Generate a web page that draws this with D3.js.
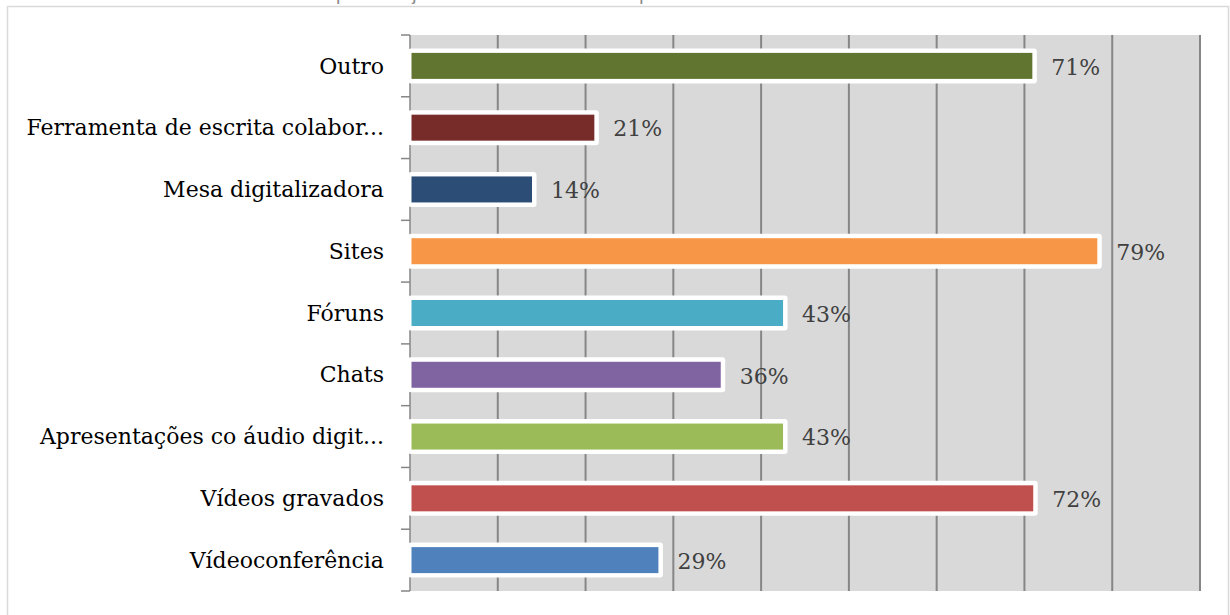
<!DOCTYPE html>
<html>
<head>
<meta charset="utf-8">
<script src="https://cdn.jsdelivr.net/npm/d3@7"></script>
<style>
  body { margin: 0; background: #fff; }
  svg text { font-family: "DejaVu Serif", "Liberation Serif", serif; }
</style>
</head>
<body>
<div id="chart"></div>
<script>
const width = 1230;
const height = 615;

// Data, top to bottom as in the chart
const categories = ["Outro", "Ferramenta de escrita colabor...", "Mesa digitalizadora", "Sites", "Fóruns",
  "Chats", "Apresentações co áudio digit...", "Vídeos gravados", "Vídeoconferência"];
const values = [70.9, 21.0, 13.9, 78.3, 42.5, 35.4, 42.5, 71.0, 28.3];
const valueLabels = ["71%", "21%", "14%", "79%", "43%", "36%", "43%", "72%", "29%"];
const barColors = ["#617530", "#772c2a", "#2c4d75", "#f79646", "#4bacc6", "#8064a2", "#9bbb59", "#c0504d", "#4f81bd"];
const xTicks = [0, 10, 20, 30, 40, 50, 60, 70, 80, 90];

const svg = d3.select("#chart").append("svg").attr("width", width).attr("height", height);

// Caption, cut off by the top edge of the page
svg.append("text").attr("x", 12).attr("y", -0.5)
  .style("font-family", "'Liberation Sans', sans-serif").style("font-size", "19px").attr("fill", "#8a8a8a")
  .text("Gráfico 4: Ferramentas ou atividades que você já utilizou ou utiliza na sua prática docente");

// Outer frame
svg.append("rect").attr("x", 7.5).attr("y", 6.5).attr("width", 1221).attr("height", 620)
  .attr("fill", "#fff").attr("stroke", "#d9d9d9").attr("stroke-width", 1.5);

const x = d3.scaleLinear().domain([0, 90]).range([410, 1200]);
const y = d3.scaleBand().domain(categories).range([35, 591]).paddingInner(0).paddingOuter(0);

// Plot background
svg.append("rect").attr("x", x(0)).attr("y", 35).attr("width", x(90) - x(0)).attr("height", 591 - 35)
  .attr("fill", "#d9d9d9");

// Vertical gridlines
svg.append("g").selectAll("line").data(xTicks.slice(1)).join("line")
  .attr("x1", d => x(d)).attr("x2", d => x(d)).attr("y1", 35).attr("y2", 591)
  .attr("stroke", "#868686").attr("stroke-width", 2);

// Category axis with ticks between bands
const yAxis = svg.append("g");
yAxis.append("line").attr("x1", 410).attr("x2", 410).attr("y1", 35).attr("y2", 591)
  .attr("stroke", "#868686").attr("stroke-width", 1.5);
const bounds = categories.map(c => y(c)).concat([591]);
yAxis.selectAll("line.tick").data(bounds).join("line").attr("class", "tick")
  .attr("x1", 401).attr("x2", 410).attr("y1", d => d).attr("y2", d => d)
  .attr("stroke", "#868686").attr("stroke-width", 1.5);

yAxis.selectAll("text").data(categories).join("text")
  .attr("x", 384).attr("y", d => y(d) + y.bandwidth() / 2).attr("dy", "0.35em")
  .attr("text-anchor", "end").style("font-size", "22px").attr("fill", "#000")
  .text(d => d);

const barH = 26;
const bars = svg.append("g").selectAll("g").data(categories).join("g");

// White outline behind each bar
bars.append("rect")
  .attr("x", x(0) - 2).attr("y", d => y(d) + (y.bandwidth() - barH) / 2 - 4.5)
  .attr("width", (d, i) => x(values[i]) - x(0) + 6.5).attr("height", barH + 9)
  .attr("rx", 3).attr("fill", "#fff");

bars.append("rect")
  .attr("x", x(0) + 1.5).attr("y", d => y(d) + (y.bandwidth() - barH) / 2)
  .attr("width", (d, i) => x(values[i]) - x(0) - 1.5).attr("height", barH)
  .attr("fill", (d, i) => barColors[i]);

// Value labels
bars.append("text")
  .attr("x", (d, i) => x(values[i]) + 19).attr("y", d => y(d) + y.bandwidth() / 2).attr("dy", "0.4em")
  .style("font-size", "22px").attr("fill", "#404040")
  .text((d, i) => valueLabels[i]);
</script>
</body>
</html>
